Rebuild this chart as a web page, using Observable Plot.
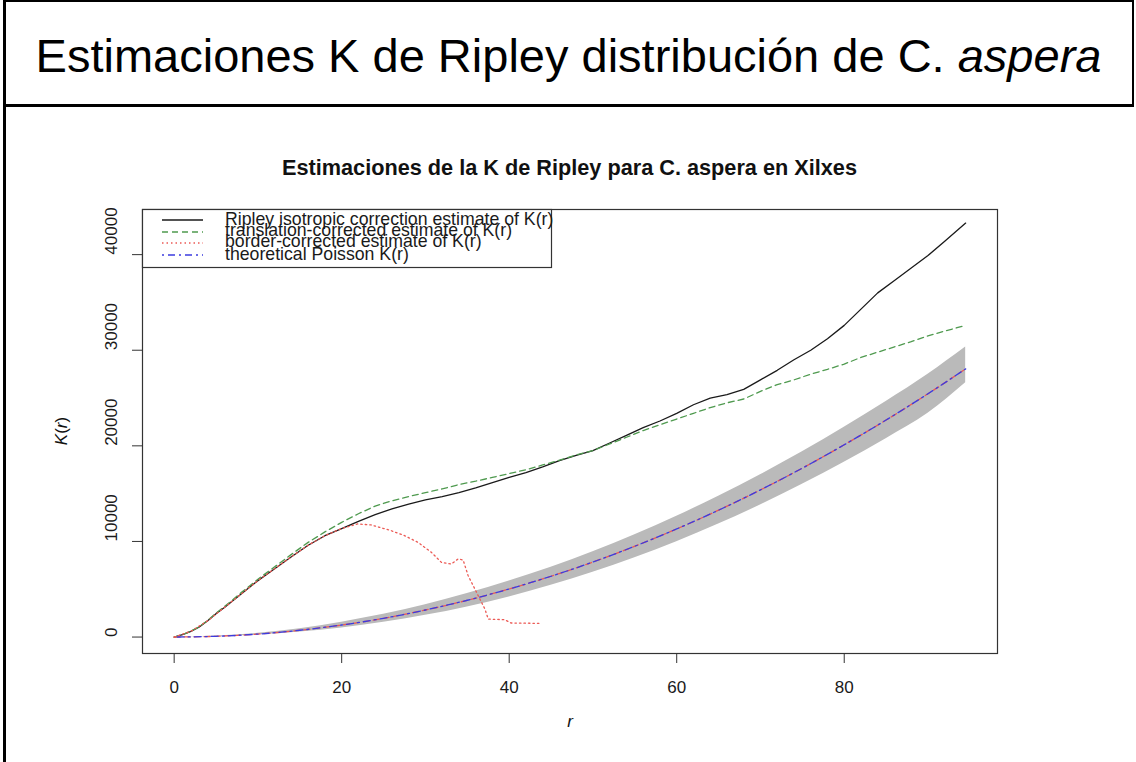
<!DOCTYPE html>
<html>
<head>
<meta charset="utf-8">
<script src="https://cdn.jsdelivr.net/npm/d3@7"></script>
<script src="https://cdn.jsdelivr.net/npm/@observablehq/plot@0.6"></script>
<style>
  html, body { margin: 0; padding: 0; background: #fff; }
  #wrap { position: relative; width: 1136px; height: 762px; background: #fff; overflow: hidden;
          font-family: "Liberation Sans", Arial, Helvetica, sans-serif; color: #1a1a1a; }
  #titlebox { position: absolute; left: 3px; top: 0; width: 1131px; height: 107px; box-sizing: border-box;
              border-top: 2px solid #000; border-left: 2.5px solid #000; border-right: 2.5px solid #000; border-bottom: 3px solid #000; }
  #leftline { position: absolute; left: 3px; top: 0; width: 2.5px; height: 762px; background: #000; }
  #title { position: absolute; left: 3px; width: 1131px; top: 33px; height: 46px; line-height: 46px;
           text-align: center; font-size: 47px; color: #000; white-space: nowrap; }
  #chart { position: absolute; left: 0; top: 105px; }
  #ptitle { position: absolute; left: 142px; width: 855px; top: 157px; line-height: 22px; height: 22px;
            text-align: center; font-weight: bold; font-size: 21.7px; white-space: nowrap; color: #111; }
  #ylab { position: absolute; left: 62px; top: 431px; transform: translate(-50%, -50%) rotate(-90deg);
          font-size: 17px; white-space: nowrap; line-height: 18px; color: #111; }
  #xlab { position: absolute; left: 570px; top: 722px; transform: translate(-50%, -50%);
          font-size: 17px; font-style: italic; line-height: 18px; color: #111; }
</style>
</head>
<body>
<div id="wrap">
  <div id="chart"></div>
  <div id="titlebox"></div>
  <div id="leftline"></div>
  <div id="title">Estimaciones K de Ripley distribución de C. <i>aspera</i></div>
  <div id="ptitle">Estimaciones de la K de Ripley para C. aspera en Xilxes</div>
  <div id="ylab"><i>K</i>(<i>r</i>)</div>
  <div id="xlab">r</div>
</div>
<script>
// ---- data ----
// Ripley isotropic correction estimate of K(r)
const r_iso = [0,1,2,3,4,5,6,7,8,9,10,12,14,16,18,20,22,24,26,28,30,32,34,36,38,40,42,44,46,48,50,52,54,56,58,60,62,64,66,68,70,72,74,76,78,80,82,84,86,88,90,92,94.5];
const K_iso = [0,250,600,1050,1700,2450,3100,3800,4500,5200,5900,7150,8400,9600,10600,11350,12100,12800,13400,13900,14350,14700,15100,15600,16150,16700,17200,17800,18450,19000,19500,20300,21100,21900,22600,23400,24300,25000,25350,25900,26900,27900,29000,30000,31200,32600,34300,36000,37300,38600,39900,41400,43300];
// translation-corrected estimate of K(r)
const r_trans = r_iso;
const K_trans = [0,250,620,1080,1750,2500,3200,3900,4650,5350,6050,7350,8650,9900,11000,12000,12900,13700,14250,14700,15100,15500,15950,16300,16700,17100,17500,18000,18500,19050,19500,20200,20900,21600,22200,22800,23400,24000,24500,24900,25700,26400,26900,27500,28000,28550,29250,29800,30350,30900,31500,32000,32600];
// border-corrected estimate of K(r)
const r_bord = [0,2,4,6,8,10,12,14,16,18,20,21.9,23.5,25.9,27.5,29.1,30.7,31.9,33.1,33.9,34.5,35.1,36.1,37.1,37.5,39.5,40.2,43.8];
const K_bord = [0,600,1700,3100,4500,5900,7150,8400,9600,10600,11350,11830,11730,11130,10610,9910,8870,7820,7640,8170,8060,6420,4680,2930,1880,1810,1470,1430];
// theoretical Poisson K(r) and simulation envelope
const r_env = [0,5,10,15,20,25,30,35,40,45,50,55,60,65,70,75,80,85,90,94.5];
const K_theo = [0,80,310,710,1260,1960,2830,3850,5030,6360,7850,9500,11310,13270,15390,17670,20110,22700,25450,28050];
const K_lo = [0,60,230,540,960,1540,2270,3150,4200,5410,6770,8300,9980,11820,13810,15970,18280,20750,23400,26600];
const K_hi = [0,100,390,880,1560,2380,3390,4550,5860,7310,8930,10700,12640,14720,16970,19370,21940,24650,27500,30350];
// ticks
const xTicks = [0,20,40,60,80];
const yTicks = [0,10000,20000,30000,40000];
// legend
const legendLabels = ["Ripley isotropic correction estimate of K(r)","translation-corrected estimate of K(r)","border-corrected estimate of K(r)","theoretical Poisson K(r)"];

// ---- tables ----
const iso = r_iso.map((r,i)=>({r, K:K_iso[i]}));
const trans = r_trans.map((r,i)=>({r, K:K_trans[i]}));
const bord = r_bord.map((r,i)=>({r, K:K_bord[i]}));
const env = r_env.map((r,i)=>({r, theo:K_theo[i], lo:K_lo[i], hi:K_hi[i]}));

const C_BLACK = "#1a1a1a", C_GREEN = "#4f9a4f", C_RED = "#ec5a55", C_BLUE = "#3c3ce0", C_GRAY = "#bababa";

const chart = Plot.plot({
  width: 1136, height: 657,
  marginTop: 104, marginBottom: 109, marginLeft: 142, marginRight: 139,
  x: {domain: [-3.78, 98.3]},
  y: {domain: [-1720, 44720]},
  style: {fontFamily: '"Liberation Sans", Arial, sans-serif', fontSize: "17px", color: "#1a1a1a", background: "transparent", overflow: "visible"},
  marks: [
    Plot.areaY(env, {x: "r", y1: "lo", y2: "hi", fill: C_GRAY, curve: "monotone-x"}),
    Plot.line(iso, {x: "r", y: "K", stroke: C_BLACK, strokeWidth: 1.3}),
    Plot.line(trans, {x: "r", y: "K", stroke: C_GREEN, strokeWidth: 1.3, strokeDasharray: "6,4"}),
    Plot.line(bord, {x: "r", y: "K", stroke: C_RED, strokeWidth: 1.3, strokeDasharray: "1.5,3"}),
    Plot.line(env, {x: "r", y: "theo", stroke: C_RED, strokeWidth: 1.3, strokeDasharray: "6,4", curve: "monotone-x"}),
    Plot.line(env, {x: "r", y: "theo", stroke: C_BLUE, strokeWidth: 1.3, strokeDasharray: "2,4,7,4", strokeDashoffset: 3, curve: "monotone-x"}),
    Plot.frame({stroke: "#333", strokeWidth: 1.2}),
    Plot.axisX({ticks: xTicks, tickSize: 10, tickPadding: 17, label: null, stroke: "#333", fontSize: 17}),
    Plot.axisY({ticks: yTicks, tickSize: 10, tickFormat: () => "", label: null, stroke: "#333"}),
    Plot.text(yTicks, {y: d => d, text: d => String(d), frameAnchor: "left", dx: -31, rotate: -90, fontSize: 17, fill: "#1a1a1a"})
  ]
});
document.getElementById("chart").appendChild(chart);

// legend box (top-left of the plot frame)
const leg = d3.select("#wrap").append("svg")
  .style("position", "absolute").style("left", "142px").style("top", "209px")
  .style("overflow", "visible")
  .attr("width", 411).attr("height", 60);
leg.append("rect").attr("x", 0.5).attr("y", 0.5).attr("width", 409).attr("height", 58)
  .attr("fill", "#fff").attr("stroke", "#333").attr("stroke-width", 1.2);
const legStyles = [
  {stroke: C_BLACK, dash: null},
  {stroke: C_GREEN, dash: "6,4"},
  {stroke: C_RED, dash: "1.5,3"},
  {stroke: C_BLUE, dash: "2,4,7,4"}
];
const lineY = [11, 23, 34, 46];
const textY = [16, 27, 38, 51];
legendLabels.forEach((lab, i) => {
  const l = leg.append("line").attr("x1", 20).attr("x2", 61).attr("y1", lineY[i]).attr("y2", lineY[i])
    .attr("stroke", legStyles[i].stroke).attr("stroke-width", 1.3);
  if (legStyles[i].dash) l.attr("stroke-dasharray", legStyles[i].dash);
  leg.append("text").attr("x", 83).attr("y", textY[i]).text(lab)
    .attr("font-family", '"Liberation Sans", Arial, sans-serif').attr("font-size", 17.7).attr("fill", "#1a1a1a");
});
</script>
</body>
</html>
